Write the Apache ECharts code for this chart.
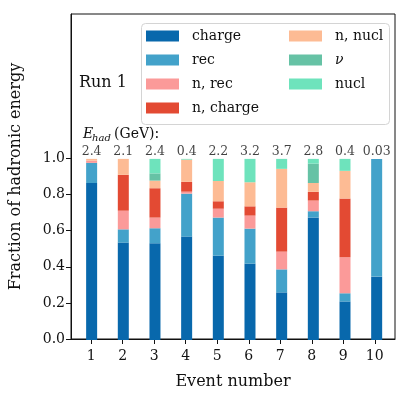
<!DOCTYPE html>
<html>
<head>
<meta charset="utf-8">
<script src="https://cdn.jsdelivr.net/npm/echarts@6/dist/echarts.min.js"></script>
<style>
  html, body { margin: 0; padding: 0; background: #fff; }
  #chart { width: 415px; height: 395px; }
</style>
</head>
<body>
<div id="chart"></div>
<script>
// event numbers and the hadronic energy printed above each bar
const events = [1, 2, 3, 4, 5, 6, 7, 8, 9, 10]
const ehadLabels = ['2.4', '2.1', '2.4', '0.4', '2.2', '3.2', '3.7', '2.8', '0.4', '0.03']

// fractions per component, stacked bottom to top
const charge = [0.867, 0.538, 0.534, 0.571, 0.466, 0.422, 0.263, 0.677, 0.213, 0.350]
const rec = [0.111, 0.073, 0.083, 0.237, 0.210, 0.193, 0.127, 0.034, 0.045, 0.650]
const nRec = [0.012, 0.103, 0.059, 0.011, 0.049, 0.072, 0.098, 0.059, 0.199, 0]
const nCharge = [0, 0.198, 0.162, 0.054, 0.041, 0.051, 0.243, 0.048, 0.324, 0]
const nNucl = [0.010, 0.088, 0.042, 0.123, 0.112, 0.133, 0.214, 0.049, 0.153, 0]
const nu = [0, 0, 0.040, 0, 0, 0, 0, 0.107, 0, 0]
const nucl = [0, 0, 0.080, 0.004, 0.122, 0.129, 0.055, 0.026, 0.066, 0]

const seriesNames = ['charge', 'rec', 'n, rec', 'n, charge', 'n, nucl', 'ν', 'nucl']
const seriesData = [charge, rec, nRec, nCharge, nNucl, nu, nucl]
const colors = ['#0868ac', '#43a2ca', '#fb9a99', '#e34a33', '#fdbb94', '#66c2a5', '#6ee3bc']

const yTicks = [0, 0.2, 0.4, 0.6, 0.8, 1.0]

const serif = 'DejaVu Serif'
const ink = '#111'
const chart = echarts.init(document.getElementById('chart'), null, { renderer: 'canvas' })

// grid 0 carries the visible frame and axes (x from 0.3575 to 10.6425),
// grid 1 is the same span cut to whole bands so the category bars land on 1..10
const frame = { left: 71, right: 20, top: 14, bottom: 55 }
const bands = { left: 75.8, right: 22.5, top: 14, bottom: 55 }

const barSeries = seriesNames.map((name, i) => ({
  name,
  type: 'bar',
  stack: 'total',
  xAxisIndex: 1,
  yAxisIndex: 1,
  barWidth: 11,
  itemStyle: { color: colors[i] },
  data: seriesData[i]
}))

// E_had values sit just above the 1.0 line
const labelSeries = {
  type: 'scatter',
  xAxisIndex: 1,
  yAxisIndex: 1,
  symbolSize: 0,
  silent: true,
  data: events.map(() => 1.0),
  label: {
    show: true,
    position: 'top',
    distance: 1,
    color: ink,
    fontFamily: serif,
    fontSize: 12.5,
    formatter: (p) => ehadLabels[p.dataIndex]
  }
}

const legendBase = {
  orient: 'vertical',
  padding: 0,
  itemWidth: 33,
  itemHeight: 11,
  itemGap: 10,
  icon: 'rect',
  textStyle: {
    fontFamily: serif,
    fontSize: 14,
    color: ink,
    padding: [0, 0, 0, 8],
    rich: { i: { fontFamily: serif, fontStyle: 'italic', fontSize: 14, color: ink } }
  },
  formatter: (name) => (name === 'ν' ? '{i|ν}' : name)
}

chart.setOption({
  animation: false,
  backgroundColor: '#fff',
  grid: [
    Object.assign({ show: true, borderColor: ink, borderWidth: 1 }, frame),
    bands
  ],
  xAxis: [
    {
      type: 'value',
      gridIndex: 0,
      min: 0.3575,
      max: 10.6425,
      name: 'Event number',
      nameLocation: 'middle',
      nameGap: 35,
      nameTextStyle: { fontFamily: serif, fontSize: 16, color: ink },
      axisLine: { show: true, onZero: false, lineStyle: { color: ink } },
      axisTick: { show: true, customValues: events, length: 5, lineStyle: { color: ink } },
      axisLabel: { customValues: events, fontFamily: serif, fontSize: 14, color: ink, margin: 10 },
      splitLine: { show: false }
    },
    {
      type: 'category',
      gridIndex: 1,
      data: events,
      show: false
    }
  ],
  yAxis: [
    {
      type: 'value',
      gridIndex: 0,
      min: 0,
      max: 1.8,
      name: 'Fraction of hadronic energy',
      nameLocation: 'middle',
      nameGap: 47,
      nameTextStyle: { fontFamily: serif, fontSize: 16, color: ink },
      axisLine: { show: true, lineStyle: { color: ink } },
      axisTick: { show: true, customValues: yTicks, length: 5, lineStyle: { color: ink } },
      axisLabel: {
        customValues: yTicks,
        fontFamily: serif,
        fontSize: 14,
        color: ink,
        margin: 6,
        formatter: (v) => v.toFixed(1)
      },
      splitLine: { show: false }
    },
    {
      type: 'value',
      gridIndex: 1,
      min: 0,
      max: 1.8,
      show: false
    }
  ],
  legend: [
    Object.assign({}, legendBase, { left: 146, top: 29, data: seriesNames.slice(0, 4) }),
    Object.assign({}, legendBase, { left: 289, top: 29, data: seriesNames.slice(4) })
  ],
  graphic: [
    {
      type: 'rect',
      left: 141,
      top: 23,
      shape: { width: 248, height: 101, r: 4 },
      style: { fill: 'rgba(255,255,255,0.85)', stroke: '#d4d4d4', lineWidth: 1 },
      z: 0
    },
    {
      type: 'text',
      left: 79,
      top: 75,
      style: { text: 'Run 1', fontFamily: serif, fontSize: 16, fill: ink }
    },
    {
      type: 'text',
      left: 83,
      top: 127,
      style: { text: 'E', fontFamily: serif, fontStyle: 'italic', fontSize: 14, fill: ink }
    },
    {
      type: 'text',
      left: 92,
      top: 133,
      style: { text: 'had', fontFamily: serif, fontStyle: 'italic', fontSize: 10, fill: ink }
    },
    {
      type: 'text',
      left: 114,
      top: 127,
      style: { text: '(GeV):', fontFamily: serif, fontSize: 14, fill: ink }
    }
  ],
  series: [...barSeries, labelSeries]
})
</script>
</body>
</html>
